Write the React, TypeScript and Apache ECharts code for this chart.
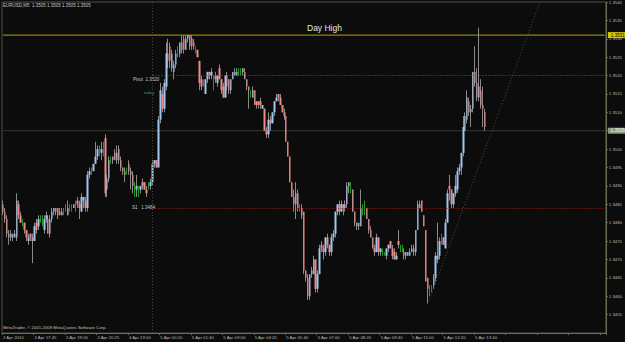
import React, { useEffect, useRef } from "react";
import * as echarts from "echarts";

// prices are stored in pips above BASE
const BASE = 1.34;
const PIP = 0.0001;

const symbolTitle = "EURUSD,M5  1.3505 1.3505 1.3505 1.3505";
const copyright = "MetaTrader, \u00a9 2001-2009 MetaQuotes Software Corp.";

const tickLabels = [
  "2 Apr 2010", "2 Apr 17:45", "2 Apr 19:05", "2 Apr 20:25", "4 Apr 23:00", "5 Apr 00:20",
  "5 Apr 01:40", "5 Apr 03:00", "5 Apr 04:20", "5 Apr 05:40", "5 Apr 07:00", "5 Apr 08:20",
  "5 Apr 09:40", "5 Apr 11:00", "5 Apr 12:20", "5 Apr 13:40",
];
const SLOT_COUNT = 307;
const LABEL_EVERY = 16;

// [open, close, low, high] in pips above BASE
const bars: number[][] = [
  [85,83,82,86],[83,81,80,84],[81,77,76,82],[77,76,74,78],[76,77,75,78],[76,77,75,77],[76,77,76,78],[76,86,75,88],
  [85,82,81,86],[82,80,80,83],[80,80,79,81],[80,78,77,80],[78,76,75,78],[75,76,74,77],[77,76,75,77],[76,75,69,77],
  [75,79,75,80],[80,78,77,81],[79,81,78,82],[81,81,80,82],[81,81,79,82],[78,81,77,82],[81,82,80,83],[81,77,77,82],
  [77,81,76,82],[81,83,80,84],[83,84,82,84],[84,83,82,84],[84,82,81,84],[83,82,82,84],[82,83,82,84],[83,83,82,84],
  [84,84,83,85],[82,84,82,86],[84,84,83,85],[84,84,83,85],[84,85,84,85],[85,85,83,86],[86,85,84,87],[85,84,81,86],
  [83,87,83,88],[86,87,84,87],[86,84,83,87],[84,93,83,94],[93,94,92,95],[94,94,93,95],[94,96,94,96],[96,98,96,102],
  [98,100,97,101],[99,99,98,101],[99,100,97,102],[100,100,98,102],[103,88,87,104],[89,92,87,93],[92,97,91,98],[97,97,96,98],
  [98,97,96,98],[99,97,97,100],[97,99,96,101],[100,97,96,101],[97,95,94,98],[95,94,93,95],[94,93,91,95],[94,94,93,95],
  [96,94,93,97],[94,93,89,95],[93,90,88,94],[89,89,87,91],[89,90,87,93],[89,89,87,90],[89,90,88,90],[91,90,89,92],
  [91,89,89,91],[89,88,87,90],[90,90,89,91],[90,91,89,92],[91,96,90,97],[96,97,95,97],[97,95,95,97],[95,108,95,109],
  [108,116,107,118],[115,111,110,117],[111,118,110,119],[117,126,116,129],[126,124,122,130],[128,124,122,129],[122,126,121,127],[121,123,119,124],
  [123,126,122,127],[126,126,125,128],[126,129,125,129],[129,127,126,131],[130,127,126,131],[127,130,127,131],[130,131,129,131],[131,128,127,131],
  [130,128,127,131],[129,128,127,130],[127,127,126,128],[127,125,125,127],[124,118,116,124],[119,117,116,120],[118,118,117,119],[115,119,115,119],
  [119,121,118,121],[121,120,119,121],[120,121,119,122],[120,120,116,120],[120,119,118,121],[118,120,117,120],[122,119,119,123],[119,116,115,119],
  [117,114,114,118],[114,120,114,120],[120,117,116,121],[119,116,115,119],[116,119,115,119],[119,121,119,121],[120,121,120,122],[120,121,120,122],
  [121,121,120,122],[121,121,120,122],[121,122,120,122],[121,119,119,122],[119,117,116,119],[117,116,111,117],[115,115,114,116],[114,116,114,117],
  [116,112,112,116],[113,112,111,113],[113,112,111,113],[113,112,111,114],[111,112,111,112],[111,105,105,111],[105,104,103,106],[104,108,103,110],
  [108,107,105,109],[107,110,107,110],[110,113,109,113],[113,114,113,115],[115,114,113,115],[114,112,112,115],[112,110,110,112],[110,109,108,111],
  [109,102,102,109],[102,98,98,102],[98,91,91,98],[91,87,87,91],[87,85,83,89],[85,88,81,91],[88,84,83,89],[84,84,83,85],
  [84,82,81,85],[83,67,66,83],[67,65,64,67],[65,60,59,66],[60,66,59,66],[66,67,65,68],[66,70,66,71],[70,62,61,70],
  [62,66,61,67],[66,73,66,74],[74,73,72,75],[73,72,70,74],[72,76,71,76],[76,74,73,77],[74,72,71,74],[72,76,71,77],
  [76,77,75,78],[77,83,76,83],[83,85,82,85],[85,83,82,86],[83,85,83,86],[85,84,82,85],[84,85,83,86],[85,90,84,91],
  [90,91,88,91],[90,90,88,91],[89,83,83,89],[83,80,79,83],[79,80,78,80],[80,79,78,80],[79,84,79,89],[84,84,82,85],
  [85,85,82,86],[84,81,81,84],[81,78,77,81],[78,76,76,79],[76,73,73,76],[73,72,71,74],[72,76,72,77],[76,72,71,76],
  [72,73,71,73],[72,72,71,73],[72,72,71,72],[71,73,70,73],[73,74,72,74],[75,73,73,75],[73,71,70,74],[72,70,70,73],
  [70,71,70,72],[75,74,73,78],[73,73,72,74],[73,73,72,74],[72,71,70,73],[71,72,70,72],[71,72,71,72],[71,72,71,73],
  [72,73,72,74],[73,72,71,74],[72,78,71,78],[78,85,78,86],[85,84,84,86],[86,83,83,86],[82,79,79,82],[78,64,64,78],
  [65,62,58,65],[62,62,60,63],[62,62,61,63],[63,65,62,66],[65,71,64,72],[70,71,69,80],[71,75,70,76],[75,75,74,77],
  [76,74,74,76],[73,80,73,81],[80,88,80,89],[90,89,86,93],[89,85,84,89],[85,88,84,88],[88,90,87,93],[89,94,88,95],
  [94,95,93,96],[95,99,93,99],[99,106,98,109],[105,109,105,110],[108,114,107,116],[113,110,109,114],[110,111,106,112],[111,121,110,121],
  [121,118,117,128],[118,114,113,122],[114,117,113,133],[116,112,111,119],[112,111,106,117],[110,106,105,111],[105,105,105,105],
];

const dayHigh = 1.3531;
const pivot = 1.352;
const s1 = 1.3484;
const bid = 1.3505;
const daySeparatorIndex = 76;
const trendStart = [216, 1.3458];
const trendEnd = [273, 1.354];

const priceMin = 1.345;
const priceMax = 1.354;
const priceStep = 0.0005;

const toPrice = (v: number) => +(BASE + v * PIP).toFixed(5);

const FONT = "Liberation Sans";
const AXIS_COLOR = "#66705a";
const LABEL_COLOR = "#bdbdbd";

export default function App() {
  const ref = useRef<HTMLDivElement>(null);

  useEffect(() => {
    if (!ref.current) return;
    const chart = echarts.init(ref.current, undefined, { renderer: "svg" });

    const slots = Array.from({ length: SLOT_COUNT }, (_, i) => String(i));
    const ohlc = bars.map(([o, c, l, h]) => [toPrice(o), toPrice(c), toPrice(l), toPrice(h)]);
    const bodies = bars.map(([o, c]) => [toPrice(o), toPrice(c), toPrice(Math.min(o, c)), toPrice(Math.max(o, c))]);
    const isTick = (i: number) => i % LABEL_EVERY === 0;

    const hLine = (value: number, fromIndex: number, lineStyle: any) => [
      { coord: [fromIndex, value], lineStyle },
      { coord: [SLOT_COUNT - 1, value] },
    ];

    // a full-width level line with its highlighted price tag at the right axis
    const levelSeries = (name: string, value: number, lineColor: string, tagBg: string, tagFg: string) => ({
      name,
      type: "line",
      data: [
        [0, value],
        [SLOT_COUNT - 1, value],
      ],
      symbol: "none",
      silent: true,
      z: 1,
      lineStyle: { color: lineColor, width: 1, type: "solid" },
      itemStyle: { color: lineColor },
      emphasis: { disabled: true },
      endLabel: {
        show: true,
        formatter: value.toFixed(4),
        backgroundColor: tagBg,
        color: tagFg,
        fontSize: 4.5,
        fontFamily: FONT,
        padding: [0.5, 3, 0.5, 3],
        distance: 3,
      },
    });

    const option: any = {
      animation: false,
      backgroundColor: "#0b0c0b",
      grid: {
        left: 1,
        top: 1,
        right: 19,
        bottom: 9,
        show: true,
        borderColor: "#4a5344",
        borderWidth: 1,
      },
      xAxis: {
        type: "category",
        data: slots,
        boundaryGap: true,
        axisLine: { show: true, lineStyle: { color: AXIS_COLOR, width: 1 } },
        axisTick: { show: true, interval: (i: number) => isTick(i), length: 2, lineStyle: { color: AXIS_COLOR } },
        axisLabel: {
          interval: (i: number) => isTick(i),
          formatter: (_v: string, i: number) => (isTick(i) ? tickLabels[i / LABEL_EVERY] ?? "" : ""),
          align: "left",
          fontSize: 4.3,
          fontFamily: FONT,
          color: LABEL_COLOR,
          margin: 2,
        },
        splitLine: { show: false },
      },
      yAxis: {
        type: "value",
        position: "right",
        min: priceMin,
        max: priceMax,
        interval: priceStep,
        scale: true,
        axisLine: { show: true, lineStyle: { color: AXIS_COLOR, width: 1 } },
        axisTick: { show: true, length: 2, lineStyle: { color: AXIS_COLOR } },
        axisLabel: {
          // the bid tag covers the axis label at its own level
          formatter: (v: number) => (Math.abs(v - bid) < 1e-6 ? "" : v.toFixed(4)),
          fontSize: 4.3,
          fontFamily: FONT,
          color: LABEL_COLOR,
          margin: 3,
          showMinLabel: false,
        },
        splitLine: { show: false },
      },
      series: [
        levelSeries("dayHigh", dayHigh, "#b3a300", "#d8c600", "#000"),
        levelSeries("bid", bid, "#343a33", "#8e9c85", "#eef3ea"),
        {
          name: "wicks",
          type: "candlestick",
          data: ohlc,
          barWidth: 1,
          z: 2,
          itemStyle: {
            color: "#8a8a8a",
            color0: "#8a8a8a",
            borderColor: "#8a8a8a",
            borderColor0: "#8a8a8a",
            borderColorDoji: "#1c9a1c",
            borderWidth: 1,
          },
          markLine: {
            silent: true,
            symbol: ["none", "none"],
            animation: false,
            label: { show: false },
            data: [
              hLine(pivot, daySeparatorIndex, { color: "#a12ca6", type: [1, 2], width: 1 }),
              hLine(s1, daySeparatorIndex, { color: "#b01818", type: [1, 2], width: 1 }),
              { xAxis: daySeparatorIndex, lineStyle: { color: "#48483a", type: [1, 2], width: 1 } },
              [
                { coord: trendStart, lineStyle: { color: "#4c4f4a", type: [1, 2], width: 1 } },
                { coord: trendEnd },
              ],
            ],
          },
        },
        {
          name: "bodies",
          type: "candlestick",
          data: bodies,
          barWidth: 2,
          z: 3,
          itemStyle: {
            color: "#a4c6ee",
            color0: "#f08a8a",
            borderColor: "#a4c6ee",
            borderColor0: "#f08a8a",
            borderWidth: 0,
          },
        },
      ],
      graphic: [
        { type: "text", left: 3, top: 3, style: { text: symbolTitle, fill: "#c4c4c4", fontSize: 4.5, fontFamily: FONT } },
        { type: "text", left: 307, top: 23.5, style: { text: "Day High", fill: "#e4e4e4", fontSize: 8.5, fontFamily: FONT } },
        { type: "text", left: 133, top: 76.5, style: { text: "Pivot  " + pivot.toFixed(4), fill: "#c8c8c8", fontSize: 4.5, fontFamily: FONT } },
        { type: "text", left: 144, top: 90.5, style: { text: "today", fill: "#4f8f8a", fontSize: 4.2, fontFamily: FONT } },
        { type: "text", left: 132, top: 204.5, style: { text: "S1   " + s1.toFixed(4), fill: "#c8c8c8", fontSize: 4.5, fontFamily: FONT } },
        { type: "text", left: 3, top: 325, style: { text: copyright, fill: "#c0c0c0", fontSize: 4.3, fontFamily: FONT } },
      ],
    };

    chart.setOption(option);
    return () => chart.dispose();
  }, []);

  return <div ref={ref} style={{ position: "fixed", left: 0, top: 0, width: 625, height: 342 }} />;
}
